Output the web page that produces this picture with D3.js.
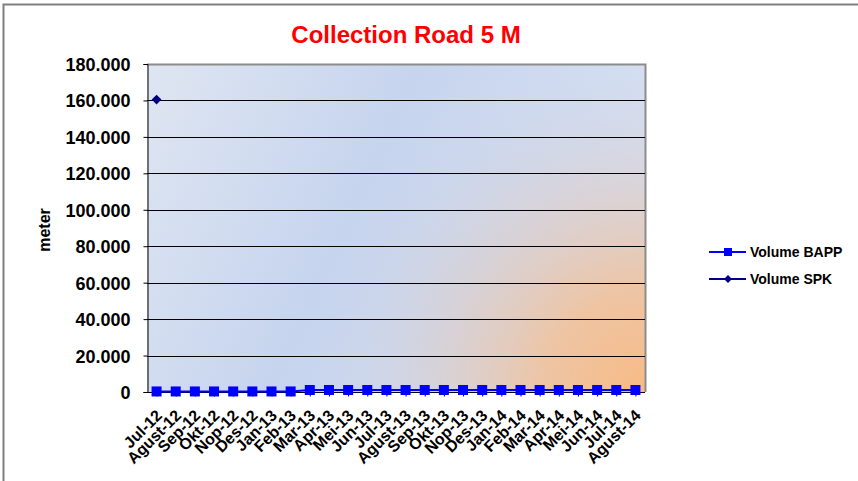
<!DOCTYPE html>
<html>
<head>
<meta charset="utf-8">
<script src="https://cdn.jsdelivr.net/npm/d3@7"></script>
<style>
  body { margin: 0; background: #fff; }
  text { font-family: "Liberation Sans", Arial, sans-serif; font-weight: bold; }
</style>
</head>
<body>
<div id="chart"></div>
<script>
// Data
var months = ["Jul-12", "Agust-12", "Sep-12", "Okt-12", "Nop-12", "Des-12", "Jan-13", "Feb-13",
  "Mar-13", "Apr-13", "Mei-13", "Jun-13", "Jul-13", "Agust-13", "Sep-13", "Okt-13", "Nop-13",
  "Des-13", "Jan-14", "Feb-14", "Mar-14", "Apr-14", "Mei-14", "Jun-14", "Jul-14", "Agust-14"];
var volumeBAPP = [300, 300, 300, 300, 300, 300, 300, 300, 1100, 1100, 1100, 1100, 1100, 1100,
  1100, 1100, 1100, 1100, 1100, 1100, 1100, 1100, 1100, 1100, 1100, 1100];
var volumeSPK = [160500, null, null, null, null, null, null, null, null, null, null, null, null,
  null, null, null, null, null, null, null, null, null, null, null, null, null];
var yTicks = [0, 20000, 40000, 60000, 80000, 100000, 120000, 140000, 160000, 180000];

var W = 858, H = 481;
var plot = {left: 147, top: 64, right: 645, bottom: 392};

var svg = d3.select('#chart').append('svg')
    .attr('width', W)
    .attr('height', H);

// outer frame
svg.append('path')
    .attr('d', 'M3.5,' + H + 'V4.5H' + W)
    .attr('fill', 'none')
    .attr('stroke', '#808080')
    .attr('stroke-width', 2);

var defs = svg.append('defs');
var lin = defs.append('linearGradient').attr('id', 'bg')
    .attr('x1', 0).attr('y1', 0).attr('x2', 1).attr('y2', 0.3);
lin.append('stop').attr('offset', '0%').attr('stop-color', '#dfe6f2');
lin.append('stop').attr('offset', '50%').attr('stop-color', '#c6d4ee');
lin.append('stop').attr('offset', '100%').attr('stop-color', '#d8e1f2');

var rad = defs.append('radialGradient').attr('id', 'glow')
    .attr('gradientUnits', 'userSpaceOnUse')
    .attr('cx', plot.right).attr('cy', plot.bottom).attr('r', 340);
rad.append('stop').attr('offset', '0%').attr('stop-color', '#f8bb84').attr('stop-opacity', 1);
rad.append('stop').attr('offset', '30%').attr('stop-color', '#efc3a0').attr('stop-opacity', 0.95);
rad.append('stop').attr('offset', '60%').attr('stop-color', '#dccbc6').attr('stop-opacity', 0.6);
rad.append('stop').attr('offset', '100%').attr('stop-color', '#c6d4ee').attr('stop-opacity', 0);

var x = d3.scalePoint()
    .domain(months)
    .range([plot.left, plot.right])
    .padding(0.5);

var y = d3.scaleLinear()
    .domain([0, 180000])
    .range([plot.bottom, plot.top]);

// plot background
svg.append('rect')
    .attr('x', plot.left).attr('y', plot.top)
    .attr('width', plot.right - plot.left).attr('height', plot.bottom - plot.top)
    .attr('fill', 'url(#bg)');
svg.append('rect')
    .attr('x', plot.left).attr('y', plot.top)
    .attr('width', plot.right - plot.left).attr('height', plot.bottom - plot.top)
    .attr('fill', 'url(#glow)');

// frame of plot area
svg.append('path')
    .attr('d', 'M' + plot.left + ',' + (plot.top + 0.5) + 'H' + (plot.right + 0.5) + 'V' + plot.bottom)
    .attr('fill', 'none')
    .attr('stroke', '#8c8c8c')
    .attr('stroke-width', 2);

// gridlines
svg.append('g').selectAll('line')
    .data(yTicks.filter(function(d) { return d > 0 && d < 180000; }))
    .enter().append('line')
    .attr('x1', plot.left).attr('x2', plot.right)
    .attr('y1', function(d) { return Math.round(y(d)) + 0.5; })
    .attr('y2', function(d) { return Math.round(y(d)) + 0.5; })
    .attr('stroke', '#000')
    .attr('stroke-width', 1);

// y axis
var yAxis = svg.append('g')
    .attr('transform', 'translate(' + (plot.left + 0.5) + ',0)')
    .call(d3.axisLeft(y).tickValues(yTicks).tickSize(4).tickPadding(13)
      .tickFormat(function(d) { return d3.format(',')(d).replace(/,/g, '.'); }));
yAxis.select('.domain').attr('stroke', '#000');
yAxis.selectAll('text').style('font-size', '18px').attr('fill', '#000').attr('dy', '0.36em');

// x axis
var xAxis = svg.append('g')
    .attr('transform', 'translate(0,' + (plot.bottom + 0.5) + ')')
    .call(d3.axisBottom(x).tickSize(4).tickSizeOuter(0));
xAxis.select('.domain').attr('stroke', '#000')
    .attr('d', 'M' + plot.left + ',0H' + plot.right);
xAxis.selectAll('text')
    .style('font-size', '16px')
    .attr('fill', '#000')
    .attr('text-anchor', 'end')
    .attr('dy', null)
    .attr('transform', 'translate(1,19) rotate(-45)');

// BAPP series
var line = d3.line()
    .defined(function(d) { return d.v != null; })
    .x(function(d) { return x(d.m); })
    .y(function(d) { return y(d.v); });

var bapp = months.map(function(m, i) { return {m: m, v: volumeBAPP[i]}; });
var spk = months.map(function(m, i) { return {m: m, v: volumeSPK[i]}; });

svg.append('path')
    .datum(bapp)
    .attr('d', line)
    .attr('fill', 'none')
    .attr('stroke', '#0000ff')
    .attr('stroke-width', 2);
svg.append('g').selectAll('rect')
    .data(bapp)
    .enter().append('rect')
    .attr('x', function(d) { return x(d.m) - 5; })
    .attr('y', function(d) { return y(d.v) - 5; })
    .attr('width', 10).attr('height', 10)
    .attr('fill', '#0000ff');

// SPK series
svg.append('path')
    .datum(spk)
    .attr('d', line)
    .attr('fill', 'none')
    .attr('stroke', '#000080')
    .attr('stroke-width', 2);
svg.append('g').selectAll('path')
    .data(spk.filter(function(d) { return d.v != null; }))
    .enter().append('path')
    .attr('d', d3.symbol(d3.symbolDiamond2, 60))
    .attr('transform', function(d) { return 'translate(' + x(d.m) + ',' + y(d.v) + ')'; })
    .attr('fill', '#000080');

// title
svg.append('text')
    .attr('x', 406).attr('y', 43)
    .attr('text-anchor', 'middle')
    .style('font-size', '24px')
    .attr('fill', '#ff0000')
    .text('Collection Road 5 M');

// y label
svg.append('text')
    .attr('transform', 'translate(50,230) rotate(-90)')
    .attr('text-anchor', 'middle')
    .style('font-size', '16px')
    .text('meter');

// legend
var legend = [
  {name: 'Volume BAPP', color: '#0000ff', shape: 'square'},
  {name: 'Volume SPK', color: '#000080', shape: 'diamond'}
];
var lg = svg.append('g').selectAll('g')
    .data(legend)
    .enter().append('g')
    .attr('transform', function(d, i) { return 'translate(709,' + (252 + i * 27) + ')'; });
lg.append('line')
    .attr('x1', 0).attr('x2', 37).attr('y1', 0).attr('y2', 0)
    .attr('stroke', function(d) { return d.color; })
    .attr('stroke-width', 2);
lg.append('path')
    .attr('d', function(d) {
      return d.shape === 'square' ? 'M-4,-4h8v8h-8z' : d3.symbol(d3.symbolDiamond2, 40)();
    })
    .attr('transform', 'translate(19,0)')
    .attr('fill', function(d) { return d.color; });
lg.append('text')
    .attr('x', 41).attr('y', 5)
    .style('font-size', '14px')
    .text(function(d) { return d.name; });
</script>
</body>
</html>
